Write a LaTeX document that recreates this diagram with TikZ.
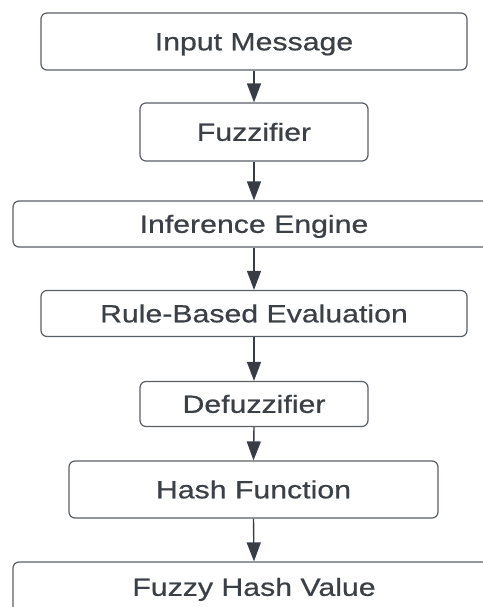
\documentclass[tikz,border=0pt]{standalone}
\usepackage{fontspec}
\setmainfont{Liberation Sans}[FakeStretch=1.22,FakeBold=0.6]
\usetikzlibrary{arrows.meta}
\definecolor{txt}{HTML}{3B3F46}
\definecolor{edge}{HTML}{5A5F66}
\definecolor{arr}{HTML}{383D45}
\tikzset{
  lbl/.style={text=txt, font=\fontsize{24.8}{28}\selectfont, inner sep=0pt,
    text height=17.6pt, text depth=0pt},
  stepbox/.style={lbl, draw=edge, line width=1.2pt, rounded corners=6pt, fill=white},
  flow/.style={draw=arr, line width=1.4pt, -{Triangle[length=19pt,width=14pt]}}
}
\begin{document}
\begin{tikzpicture}[x=1pt,y=-1pt]
\useasboundingbox (0,0) rectangle (482,607);
\node[stepbox, minimum width=426pt, minimum height=57pt] (a) at (254,41.5) {Input Message};
\node[stepbox, minimum width=228pt, minimum height=58pt] (b) at (254,132) {Fuzzifier};
\node[stepbox, minimum width=482pt, minimum height=46pt] (c) at (254,224) {Inference Engine};
\node[stepbox, minimum width=426pt, minimum height=46pt] (d) at (254,313.5) {Rule-Based Evaluation};
\node[stepbox, minimum width=228pt, minimum height=45pt] (e) at (254,404) {Defuzzifier};
\node[stepbox, minimum width=369pt, minimum height=57pt] (f) at (253.5,489.5) {Hash Function};
\node[stepbox, minimum width=482pt, minimum height=58pt] (g) at (254,591) {};
\node[lbl] (gt) at (254,587) {Fuzzy Hash Value};
\draw[flow] (a.south) -- (b.north);
\draw[flow] (b.south) -- (c.north);
\draw[flow] (c.south) -- (d.north);
\draw[flow] (d.south) -- (e.north);
\draw[flow] (e.south) -- (f.north);
\draw[flow] (f.south) -- (g.north);
\end{tikzpicture}
\end{document}
